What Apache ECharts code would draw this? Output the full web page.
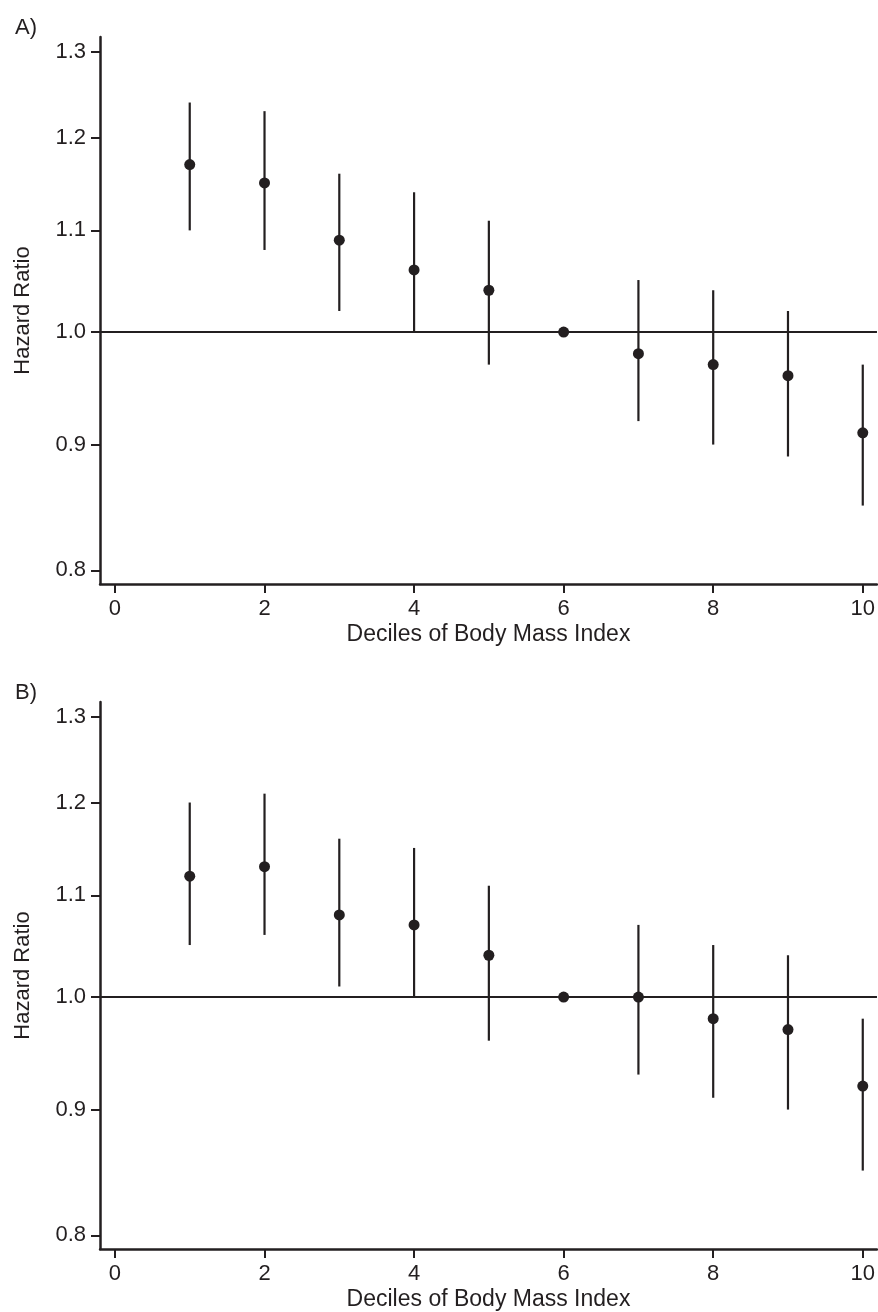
<!DOCTYPE html>
<html>
<head>
<meta charset="utf-8">
<script src="https://cdn.jsdelivr.net/npm/echarts@6.0.0/dist/echarts.min.js"></script>
<style>
  html, body { margin: 0; padding: 0; background: #fff; }
  #chart { width: 878px; height: 1312px; }
</style>
</head>
<body>
<div id="chart"></div>
<script>
// 数据
var deciles = [1, 2, 3, 4, 5, 6, 7, 8, 9, 10];
var xTicks = [0, 2, 4, 6, 8, 10];
var yTicks = [0.8, 0.9, 1.0, 1.1, 1.2, 1.3];

// A)
var hrA = [1.17, 1.15, 1.09, 1.06, 1.04, 1.00, 0.98, 0.97, 0.96, 0.91];
var loA = [1.10, 1.08, 1.02, 1.00, 0.97, null, 0.92, 0.90, 0.89, 0.85];
var hiA = [1.24, 1.23, 1.16, 1.14, 1.11, null, 1.05, 1.04, 1.02, 0.97];

// B)
var hrB = [1.12, 1.13, 1.08, 1.07, 1.04, 1.00, 1.00, 0.98, 0.97, 0.92];
var loB = [1.05, 1.06, 1.01, 1.00, 0.96, null, 0.93, 0.91, 0.90, 0.85];
var hiB = [1.20, 1.21, 1.16, 1.15, 1.11, null, 1.07, 1.05, 1.04, 0.98];

var ink = '#231f20';
var font = '"Liberation Sans", Arial, sans-serif';
var fs = 22;

var myChart = echarts.init(document.getElementById('chart'), null, { renderer: 'canvas' });

function xAxisOf(i) {
    return {
        gridIndex: i,
        type: 'value',
        min: -0.2,
        max: 10.19,
        name: 'Deciles of Body Mass Index',
        nameLocation: 'middle',
        nameGap: 39,
        nameTextStyle: { fontSize: 23, fontFamily: font, color: ink },
        axisLine: { show: true, onZero: false, lineStyle: { color: ink, width: 2.5 } },
        axisTick: { show: true, inside: false, length: 9, lineStyle: { color: ink, width: 2 }, customValues: xTicks },
        axisLabel: { fontSize: fs, fontFamily: font, color: ink, margin: 14, customValues: xTicks },
        splitLine: { show: false }
    };
}

function yAxisOf(i) {
    return {
        gridIndex: i,
        type: 'value',
        min: -0.236,
        max: 0.2765,
        name: 'Hazard Ratio',
        nameLocation: 'middle',
        nameGap: 66,
        nameTextStyle: { fontSize: fs, fontFamily: font, color: ink },
        axisLine: { show: true, onZero: false, lineStyle: { color: ink, width: 2.5 } },
        axisTick: { show: true, inside: false, length: 9, lineStyle: { color: ink, width: 2 }, customValues: yTicks.map(Math.log) },
        axisLabel: {
            fontSize: fs, fontFamily: font, color: ink, margin: 14,
            customValues: yTicks.map(Math.log),
            formatter: function (v) { return Math.exp(v).toFixed(1); }
        },
        splitLine: { show: false }
    };
}

// 误差线 + 点
function panelSeries(i, hr, lo, hi) {
    var bars = [];
    var pts = [];
    for (var k = 0; k < deciles.length; k++) {
        pts.push([deciles[k], Math.log(hr[k])]);
        if (lo[k] != null) bars.push([deciles[k], Math.log(lo[k]), Math.log(hi[k])]);
    }
    return [{
        type: 'custom',
        xAxisIndex: i,
        yAxisIndex: i,
        z: 2,
        silent: true,
        encode: { x: 0, y: [1, 2] },
        data: bars,
        renderItem: function (params, api) {
            var p1 = api.coord([api.value(0), api.value(1)]);
            var p2 = api.coord([api.value(0), api.value(2)]);
            return {
                type: 'line',
                shape: { x1: p1[0], y1: p1[1], x2: p2[0], y2: p2[1] },
                style: { stroke: ink, lineWidth: 2.2 }
            };
        }
    }, {
        type: 'scatter',
        xAxisIndex: i,
        yAxisIndex: i,
        z: 3,
        silent: true,
        symbol: 'circle',
        symbolSize: 11,
        itemStyle: { color: ink, opacity: 1 },
        data: pts,
        markLine: {
            silent: true,
            symbol: ['none', 'none'],
            label: { show: false },
            lineStyle: { color: ink, width: 2, type: 'solid' },
            data: [{ yAxis: 0 }]
        }
    }];
}

var option = {
    backgroundColor: '#fff',
    animation: false,
    tooltip: { show: false },
    title: [
        { text: 'A)', left: 10, top: 12, textStyle: { fontSize: fs, fontWeight: 'normal', fontFamily: font, color: ink } },
        { text: 'B)', left: 10, top: 677, textStyle: { fontSize: fs, fontWeight: 'normal', fontFamily: font, color: ink } }
    ],
    grid: [
        { left: 100, right: 0, top: 37, height: 547 },
        { left: 100, right: 0, top: 702, height: 548 }
    ],
    xAxis: [xAxisOf(0), xAxisOf(1)],
    yAxis: [yAxisOf(0), yAxisOf(1)],
    series: panelSeries(0, hrA, loA, hiA).concat(panelSeries(1, hrB, loB, hiB))
};

myChart.setOption(option);
</script>
</body>
</html>
